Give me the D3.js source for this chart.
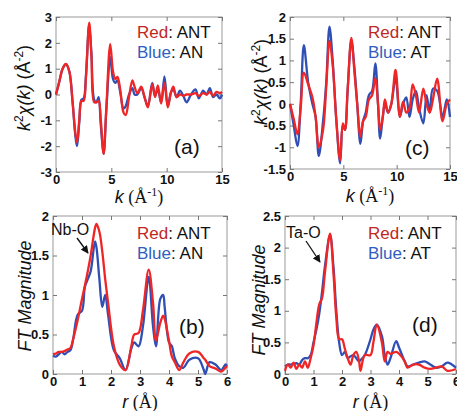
<!DOCTYPE html>
<html lang="en">
<head>
    <meta charset="UTF-8">
    <title>EXAFS panels</title>
    <script src="https://d3js.org/d3.v7.min.js"></script>
    <style>
        body { margin: 0; background: #fff; font-family: Arial, "Liberation Sans", sans-serif; }
        .tick text { font-family: Arial, "Liberation Sans", sans-serif; font-weight: bold; font-size: 13px; fill: #111; }
        .tick line { stroke: #777; }
    </style>
</head>
<body>
<div id="chart"></div>
<script>
// Panel (a): k-space, Nb edge
const aK    = [0, 0.3, 0.6, 0.9, 1.2, 1.5, 1.75, 1.9, 2.1, 2.3, 2.5, 2.7, 3.0, 3.2, 3.45, 3.65, 3.85, 4.05, 4.3, 4.55, 4.9, 5.15, 5.35, 5.55, 5.8, 6.1, 6.3, 6.6, 6.9, 7.1, 7.35, 7.7, 8.0, 8.3, 8.7, 8.95, 9.2, 9.5, 9.8, 10.1, 10.4, 10.6, 10.9, 11.2, 11.5, 11.8, 12.2, 12.6, 12.9, 13.3, 13.6, 13.9, 14.2, 14.5, 14.8, 15];
const aRed  = [0, 0.5, 1.0, 1.18, 0.9, -0.3, -1.5, -1.85, -1.0, -0.25, -0.25, 0.6, 2.78, 1.5, -0.3, -0.3, -0.25, -1.0, -2.3, -0.5, 1.95, 0.9, 0.6, 0.68, 0.2, -0.7, -0.8, -0.1, 0.55, 0.3, 0.05, 0.3, -0.1, -0.5, 0.4, -0.1, 0.35, -0.35, 0.45, -0.5, 0.1, 0.3, -0.1, 0.0, -0.05, 0.0, 0.0, 0.05, -0.05, 0.05, 0.0, 0.1, -0.05, 0.1, 0.05, 0.1];
const aBlue = [0, 0.5, 1.0, 1.17, 0.9, -0.3, -1.6, -2.0, -1.1, -0.2, -0.15, 0.7, 2.7, 1.6, -0.2, -0.3, -0.1, -1.2, -2.3, -0.6, 1.45, 0.6, 0.45, 0.55, 0.1, -0.55, -0.45, 0.0, 0.25, 0.0, 0.0, 0.25, -0.1, -0.45, 0.45, -0.05, 0.2, -0.3, 0.7, -0.45, 0.1, 0.2, -0.1, 0.15, -0.05, -0.3, 0.0, 0.2, -0.15, 0.15, 0.0, 0.25, -0.1, 0.0, -0.15, 0.0];

// Panel (c): k-space, Ta edge
const cK    = [0, 0.35, 0.7, 1.0, 1.3, 1.7, 2.1, 2.4, 2.7, 3.1, 3.4, 3.7, 4.0, 4.35, 4.7, 4.95, 5.15, 5.4, 5.75, 6.05, 6.3, 6.6, 6.85, 7.1, 7.4, 7.7, 8.0, 8.25, 8.45, 8.7, 8.9, 9.2, 9.5, 9.9, 10.3, 10.6, 10.9, 11.2, 11.5, 11.8, 12.1, 12.5, 12.8, 13.1, 13.4, 13.8, 14.3, 14.7, 15];
const cRed  = [0, -0.35, -0.7, -0.1, 0.72, 0.45, 0.15, -0.3, -1.0, -0.6, 0.4, 1.45, 0.9, -0.4, -1.3, -0.45, -0.6, 0.3, 1.52, 0.7, 0.0, -0.75, -0.4, -0.3, 0.1, 0.2, 0.6, 0.0, -0.6, -0.3, 0.1, -0.2, 0.0, 0.78, -0.3, 0.05, -0.2, -0.1, 0.45, 0.2, -0.2, 0.35, 0.0, -0.2, 0.1, 0.58, -0.4, 0.0, 0.1];
const cBlue = [0, -0.5, -0.97, 0.0, 1.35, 0.5, 0.0, -0.3, -1.2, -0.4, 0.5, 1.78, 1.0, -0.4, -1.37, -0.5, -0.6, 0.3, 1.45, 0.8, 0.0, -0.92, -0.4, -0.2, 0.2, 0.3, 0.93, 0.0, -0.8, -0.3, 0.0, -0.2, 0.0, 0.6, -0.3, 0.0, 0.15, -0.3, 0.1, 0.3, -0.1, -0.45, 0.2, -0.2, 0.35, 0.3, -0.3, 0.1, -0.3];

// Panel (b): FT, Nb-O
const bR    = [0, 0.1, 0.2, 0.3, 0.4, 0.5, 0.6, 0.7, 0.85, 1.0, 1.1, 1.2, 1.3, 1.45, 1.5, 1.6, 1.7, 1.8, 1.9, 2.1, 2.3, 2.5, 2.7, 2.8, 2.95, 3.1, 3.3, 3.45, 3.55, 3.7, 3.8, 3.85, 4.0, 4.1, 4.2, 4.35, 4.5, 4.7, 5.0, 5.2, 5.25, 5.4, 5.6, 5.8, 5.95, 6.0];
const bRed  = [0.25, 0.26, 0.28, 0.28, 0.29, 0.31, 0.33, 0.45, 0.68, 0.95, 1.12, 1.3, 1.5, 1.85, 1.9, 1.8, 1.55, 1.2, 0.9, 0.35, 0.12, 0.05, 0.35, 0.5, 0.52, 0.8, 1.32, 0.9, 0.42, 0.65, 0.74, 0.7, 0.42, 0.22, 0.15, 0.05, 0.15, 0.26, 0.28, 0.2, 0.18, 0.1, 0.07, 0.03, 0.08, 0.1];
const bBlue = [0.23, 0.22, 0.25, 0.28, 0.25, 0.28, 0.3, 0.45, 0.75, 0.8, 1.1, 1.2, 1.3, 1.68, 1.6, 1.2, 0.85, 1.0, 0.75, 0.3, 0.2, 0.05, 0.32, 0.4, 0.35, 0.6, 1.23, 0.6, 0.35, 0.95, 1.0, 0.85, 0.4, 0.35, 0.2, 0.1, 0.08, 0.18, 0.2, 0.05, 0.0, 0.15, 0.12, 0.05, 0.12, 0.1];

// Panel (d): FT, Ta-O
const dR    = [0, 0.1, 0.2, 0.3, 0.4, 0.5, 0.6, 0.7, 0.8, 0.9, 1.0, 1.1, 1.2, 1.3, 1.4, 1.58, 1.7, 1.8, 1.9, 2.0, 2.1, 2.2, 2.3, 2.4, 2.5, 2.6, 2.65, 2.8, 3.0, 3.1, 3.22, 3.4, 3.5, 3.6, 3.7, 3.9, 4.0, 4.2, 4.3, 4.5, 4.7, 4.9, 5.1, 5.3, 5.5, 5.7, 6.0];
const dRed  = [0.05, 0.15, 0.1, 0.18, 0.08, 0.15, 0.1, 0.2, 0.1, 0.25, 0.45, 0.8, 1.1, 1.2, 1.6, 2.22, 1.6, 0.9, 0.55, 0.55, 0.4, 0.25, 0.15, 0.3, 0.35, 0.2, 0.05, 0.3, 0.3, 0.5, 0.78, 0.5, 0.2, 0.35, 0.32, 0.35, 0.32, 0.2, 0.1, 0.15, 0.15, 0.1, 0.08, 0.1, 0.12, 0.05, 0.08];
const dBlue = [0.12, 0.15, 0.15, 0.16, 0.17, 0.15, 0.22, 0.25, 0.25, 0.3, 0.5, 0.7, 0.95, 1.3, 1.7, 2.2, 1.7, 1.0, 0.5, 0.3, 0.35, 0.25, 0.28, 0.3, 0.25, 0.2, 0.22, 0.3, 0.55, 0.7, 0.78, 0.6, 0.3, 0.15, 0.25, 0.52, 0.42, 0.2, 0.12, 0.15, 0.18, 0.2, 0.15, 0.1, 0.12, 0.18, 0.1];

const W = 457, H = 411;
const svg = d3.select("#chart").append("svg")
    .attr("width", W).attr("height", H);

const RED = "#f02525", BLUE = "#2f4fb5";

function panel(o) {
    const x = d3.scaleLinear().domain(o.xDom).range([o.x0, o.x1]);
    const y = d3.scaleLinear().domain(o.yDom).range([o.y1, o.y0]);
    const g = svg.append("g");
    const fmt = d => String(d);

    // frame
    g.append("rect")
        .attr("x", o.x0).attr("y", o.y0)
        .attr("width", o.x1 - o.x0).attr("height", o.y1 - o.y0)
        .attr("fill", "none").attr("stroke", "#999").attr("stroke-width", 1);

    // axes, ticks pointing in
    g.append("g").attr("transform", `translate(0,${o.y1})`)
        .call(d3.axisBottom(x).tickValues(o.xTicks).tickFormat(fmt).tickSize(-4).tickPadding(2))
        .call(a => a.select(".domain").remove())
        .call(a => a.selectAll("text").attr("dy", "0.8em"));
    g.append("g").attr("transform", `translate(${o.x0},0)`)
        .call(d3.axisLeft(y).tickValues(o.yTicks).tickFormat(fmt).tickSize(-4).tickPadding(4))
        .call(a => a.select(".domain").remove());
    g.append("g").attr("transform", `translate(0,${o.y0})`)
        .call(d3.axisTop(x).tickValues(o.xTicks).tickFormat("").tickSize(-4))
        .call(a => a.select(".domain").remove());
    g.append("g").attr("transform", `translate(${o.x1},0)`)
        .call(d3.axisRight(y).tickValues(o.yTicks).tickFormat("").tickSize(-4))
        .call(a => a.select(".domain").remove());

    const line = d3.line()
        .x((d, i) => x(o.xs[i]))
        .y(d => y(d))
        .curve(d3.curveCatmullRom.alpha(0.5));

    g.append("path").datum(o.blue)
        .attr("d", line).attr("fill", "none")
        .attr("stroke", BLUE).attr("stroke-width", 2.3);
    g.append("path").datum(o.red)
        .attr("d", line).attr("fill", "none")
        .attr("stroke", RED).attr("stroke-width", 2.3);

    // legend
    const leg = g.append("g").style("font-size", "17px");
    const t1 = leg.append("text").attr("x", o.legX).attr("y", o.legY);
    t1.append("tspan").attr("fill", "#c0281f").text("Red");
    t1.append("tspan").attr("fill", "#111").text(": ANT");
    const t2 = leg.append("text").attr("x", o.legX).attr("y", o.legY + 20);
    t2.append("tspan").attr("fill", "#2f5ec0").text("Blue");
    t2.append("tspan").attr("fill", "#111").text(": " + o.blueName);

    // panel letter
    g.append("text").attr("x", o.letX).attr("y", o.letY)
        .style("font-size", "21px").attr("fill", "#111").text(o.letter);

    // x title
    const xt = g.append("text")
        .attr("x", (o.x0 + o.x1) / 2).attr("y", o.xTitleY)
        .attr("text-anchor", "middle").style("font-size", "18px").attr("fill", "#111");
    xt.append("tspan").style("font-style", "italic").text(o.xVar);
    xt.append("tspan").style("font-family", "'Liberation Serif', 'Times New Roman', serif").text(" (Å");
    if (o.xSup) {
        xt.append("tspan").style("font-family", "'Liberation Serif', serif").style("font-size", "12px")
            .attr("dy", -7).text(o.xSup);
        xt.append("tspan").style("font-family", "'Liberation Serif', serif").attr("dy", 7).text(")");
    } else {
        xt.append("tspan").style("font-family", "'Liberation Serif', serif").text(")");
    }

    // y title
    const yt = g.append("text")
        .attr("transform", `translate(${o.yTitleX},${o.yTitleY}) rotate(-90)`)
        .attr("text-anchor", "middle").style("font-size", "18px").attr("fill", "#111");
    o.yTitle(yt);

    // annotation
    if (o.ann) {
        g.append("text").attr("x", o.ann.tx).attr("y", o.ann.ty)
            .style("font-size", "16px").attr("fill", "#111").text(o.ann.text);
        g.append("line")
            .attr("x1", o.ann.x1).attr("y1", o.ann.y1)
            .attr("x2", o.ann.x2).attr("y2", o.ann.y2)
            .attr("stroke", "#111").attr("stroke-width", 1.3)
            .attr("marker-end", "url(#arrow)");
    }
}

svg.append("defs").append("marker")
    .attr("id", "arrow").attr("viewBox", "0 0 10 10")
    .attr("refX", 9).attr("refY", 5)
    .attr("markerWidth", 6).attr("markerHeight", 6)
    .attr("orient", "auto")
    .append("path").attr("d", "M0,0 L10,5 L0,10 z").attr("fill", "#111");

function chiTitle(t) {
    t.append("tspan").style("font-style", "italic").text("k");
    t.append("tspan").style("font-size", "12px").attr("dy", -7).text("2");
    t.append("tspan").style("font-style", "italic").attr("dy", 7).text("χ(k)");
    t.append("tspan").text(" (Å");
    t.append("tspan").style("font-size", "12px").attr("dy", -7).text("-2");
    t.append("tspan").attr("dy", 7).text(")");
}
function ftTitle(t) {
    t.append("tspan").style("font-style", "italic").text("FT Magnitude");
}

panel({
    xs: aK, red: aRed, blue: aBlue, blueName: "AN", letter: "(a)",
    x0: 56, x1: 222, y0: 17, y1: 172,
    xDom: [0, 15], yDom: [-3, 3],
    xTicks: [0, 5, 10, 15], yTicks: [-3, -2, -1, 0, 1, 2, 3],
    legX: 137, legY: 38, letX: 174, letY: 154,
    xVar: "k", xSup: "-1", xTitleY: 203,
    yTitleX: 30, yTitleY: 88, yTitle: chiTitle
});

panel({
    xs: cK, red: cRed, blue: cBlue, blueName: "AT", letter: "(c)",
    x0: 290, x1: 450, y0: 17, y1: 169,
    xDom: [0, 15], yDom: [-1.5, 2],
    xTicks: [0, 5, 10, 15], yTicks: [-1.5, -1, -0.5, 0, 0.5, 1, 1.5, 2],
    legX: 368, legY: 38, letX: 405, letY: 155,
    xVar: "k", xSup: "-1", xTitleY: 202,
    yTitleX: 267, yTitleY: 82, yTitle: chiTitle
});

panel({
    xs: bR, red: bRed, blue: bBlue, blueName: "AN", letter: "(b)",
    x0: 53, x1: 227, y0: 216, y1: 374,
    xDom: [0, 6], yDom: [0, 2],
    xTicks: [0, 1, 2, 3, 4, 5, 6], yTicks: [0, 0.5, 1, 1.5, 2],
    legX: 137, legY: 239, letX: 179, letY: 334,
    xVar: "r", xSup: null, xTitleY: 408,
    yTitleX: 31, yTitleY: 296, yTitle: ftTitle,
    ann: { text: "Nb-O", tx: 51, ty: 235, x1: 77, y1: 238, x2: 88, y2: 253 }
});

panel({
    xs: dR, red: dRed, blue: dBlue, blueName: "AT", letter: "(d)",
    x0: 285, x1: 456, y0: 216, y1: 374,
    xDom: [0, 6], yDom: [0, 2.5],
    xTicks: [0, 1, 2, 3, 4, 5, 6], yTicks: [0, 0.5, 1, 1.5, 2, 2.5],
    legX: 368, legY: 239, letX: 412, letY: 332,
    xVar: "r", xSup: null, xTitleY: 408,
    yTitleX: 265, yTitleY: 300, yTitle: ftTitle,
    ann: { text: "Ta-O", tx: 286, ty: 238, x1: 306, y1: 241, x2: 320, y2: 262 }
});
</script>
</body>
</html>
